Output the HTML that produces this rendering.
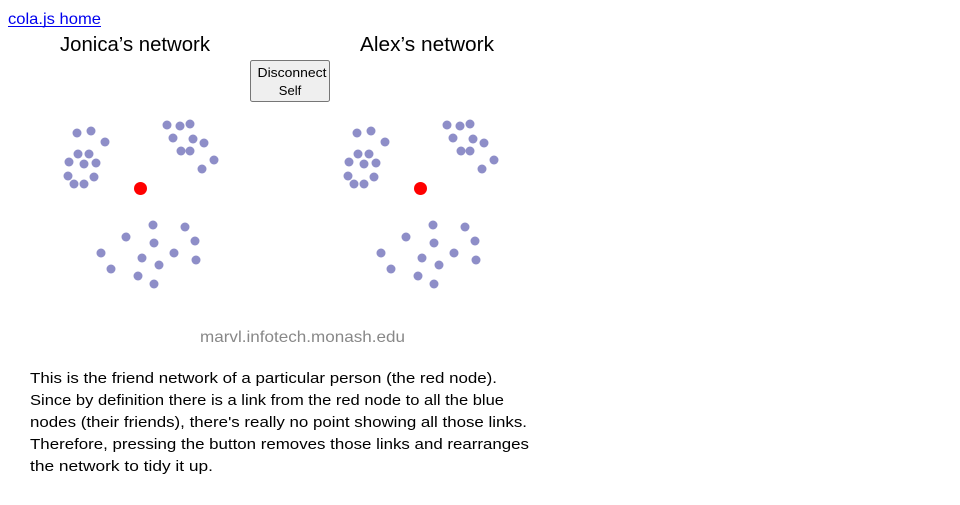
<!DOCTYPE html>
<html><head><meta charset="utf-8"><style>
body{margin:0;width:960px;height:500px;background:#fff;overflow:hidden;font-family:"Liberation Sans",sans-serif}
</style></head><body>
<svg width="960" height="500" xmlns="http://www.w3.org/2000/svg" font-family="Liberation Sans, sans-serif">
<text x="8" y="24" font-size="16" fill="#0000ee" textLength="93" lengthAdjust="spacingAndGlyphs">cola.js home</text>
<line x1="8" y1="26.5" x2="101" y2="26.5" stroke="#0000ee" stroke-width="1"/>
<text x="60" y="51" font-size="20" fill="#000" textLength="150" lengthAdjust="spacingAndGlyphs">Jonica’s network</text>
<text x="360" y="51" font-size="20" fill="#000" textLength="134" lengthAdjust="spacingAndGlyphs">Alex’s network</text>
<rect x="250.5" y="60.5" width="79" height="41" rx="2" fill="#efefef" stroke="#767676"/>
<text x="292" y="77" font-size="13" text-anchor="middle" textLength="69" lengthAdjust="spacingAndGlyphs">Disconnect</text>
<text x="290" y="95" font-size="13" text-anchor="middle">Self</text>
<g id="net" fill="#8e8ec8">
<circle cx="77" cy="133" r="4.5"/><circle cx="91" cy="131" r="4.5"/><circle cx="105" cy="142" r="4.5"/>
<circle cx="78" cy="154" r="4.5"/><circle cx="89" cy="154" r="4.5"/><circle cx="69" cy="162" r="4.5"/>
<circle cx="84" cy="164" r="4.5"/><circle cx="96" cy="163" r="4.5"/><circle cx="68" cy="176" r="4.5"/>
<circle cx="94" cy="177" r="4.5"/><circle cx="74" cy="184" r="4.5"/><circle cx="84" cy="184" r="4.5"/>
<circle cx="167" cy="125" r="4.5"/><circle cx="180" cy="126" r="4.5"/><circle cx="190" cy="124" r="4.5"/>
<circle cx="173" cy="138" r="4.5"/><circle cx="193" cy="139" r="4.5"/><circle cx="204" cy="143" r="4.5"/>
<circle cx="181" cy="151" r="4.5"/><circle cx="190" cy="151" r="4.5"/><circle cx="214" cy="160" r="4.5"/>
<circle cx="202" cy="169" r="4.5"/>
<circle cx="153" cy="225" r="4.5"/><circle cx="185" cy="227" r="4.5"/><circle cx="126" cy="237" r="4.5"/>
<circle cx="154" cy="243" r="4.5"/><circle cx="195" cy="241" r="4.5"/><circle cx="101" cy="253" r="4.5"/>
<circle cx="142" cy="258" r="4.5"/><circle cx="174" cy="253" r="4.5"/><circle cx="196" cy="260" r="4.5"/>
<circle cx="159" cy="265" r="4.5"/><circle cx="111" cy="269" r="4.5"/><circle cx="138" cy="276" r="4.5"/>
<circle cx="154" cy="284" r="4.5"/>
<circle cx="140.5" cy="188.5" r="6.5" fill="#ff0000"/>
</g>
<use href="#net" x="280"/>
<text x="200" y="342" font-size="16" fill="#888" textLength="205" lengthAdjust="spacingAndGlyphs">marvl.infotech.monash.edu</text>
<g font-size="15" fill="#000">
<text x="30" y="383" textLength="467" lengthAdjust="spacingAndGlyphs">This is the friend network of a particular person (the red node).</text>
<text x="30" y="405" textLength="474" lengthAdjust="spacingAndGlyphs">Since by definition there is a link from the red node to all the blue</text>
<text x="30" y="427" textLength="497" lengthAdjust="spacingAndGlyphs">nodes (their friends), there's really no point showing all those links.</text>
<text x="30" y="449" textLength="499" lengthAdjust="spacingAndGlyphs">Therefore, pressing the button removes those links and rearranges</text>
<text x="30" y="471" textLength="183" lengthAdjust="spacingAndGlyphs">the network to tidy it up.</text>
</g>
</svg>
</body></html>
